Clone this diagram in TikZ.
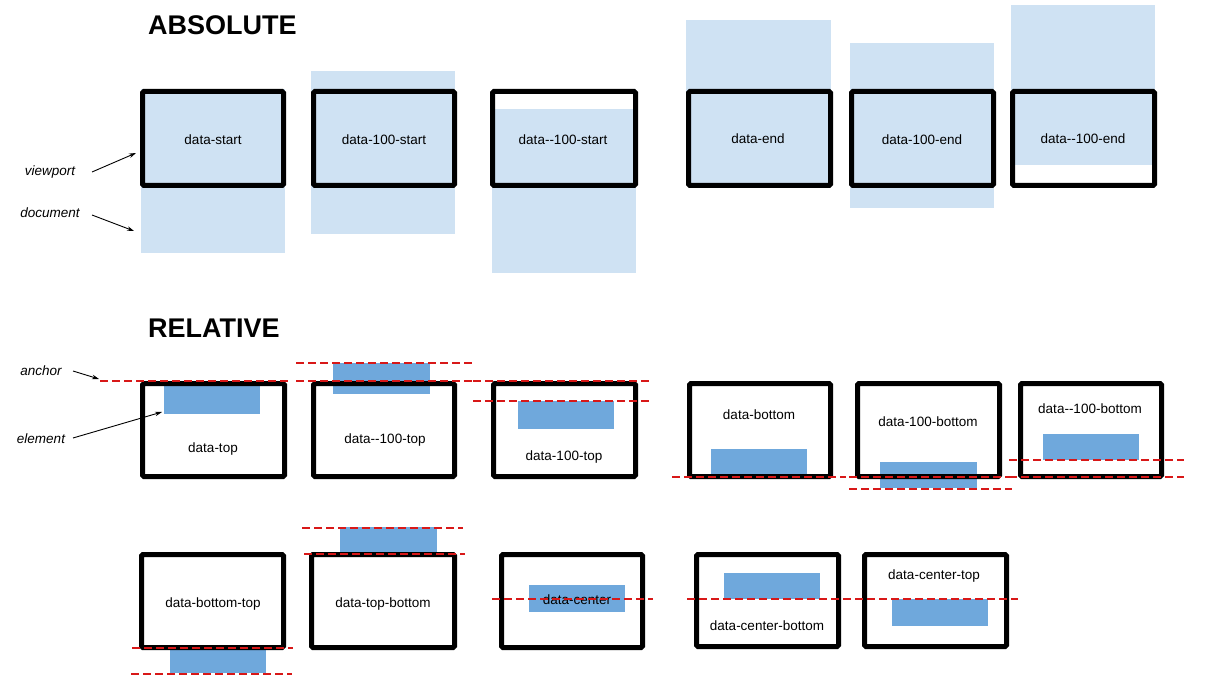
\documentclass[tikz,border=0pt]{standalone}
\usepackage{fontspec}
\setmainfont{Liberation Sans}
\usetikzlibrary{arrows.meta}
\definecolor{docblue}{HTML}{CFE2F3}
\definecolor{elemblue}{HTML}{6FA8DC}
\definecolor{anchorred}{HTML}{D81818}
% double trait d'union sans ligature
\newcommand{\dblhyph}{-\kern0pt-}
\tikzset{
  vport/.style={line width=5pt, rounded corners=1.5pt},
  docfill/.style={fill=docblue},
  elemfill/.style={fill=elemblue},
  anchorline/.style={anchorred, line width=2.2pt, dash pattern=on 8pt off 4pt},
  pointer/.style={-{Stealth[length=7pt,width=4.5pt]}, line width=0.9pt},
  caption/.style={font=\fontsize{13.5}{16}\selectfont, inner sep=0pt, anchor=base},
  sidenote/.style={caption, font=\fontsize{13.5}{16}\selectfont\itshape},
  heading/.style={font=\fontsize{27}{30}\selectfont\bfseries, inner sep=0pt, anchor=base west}
}
\begin{document}
\begin{tikzpicture}[x=1pt, y=-1pt]
  \useasboundingbox (0,0) rectangle (1207,684);
  % Titres
  \node[heading] (absTitle) at (148,35) {ABSOLUTE};
  \node[heading] (relTitle) at (148,338) {RELATIVE};

  % --- Absolute : document derriere le viewport ---
  \fill[docfill] (141,89) rectangle (285,253);
  \draw[vport] (142.5,91.5) rectangle (283.5,185.5);
  \node[caption] (cStart) at (213,145) {data-start};
  \fill[docfill] (311,71) rectangle (455,234);
  \draw[vport] (313.5,91.5) rectangle (454.5,185.5);
  \node[caption] (cHundredStart) at (384,145) {data-100-start};
  \fill[docfill] (492,109) rectangle (636,273);
  \draw[vport] (492.5,91.5) rectangle (635.5,185.5);
  \node[caption] (cMinusStart) at (563,145) {data\dblhyph100-start};
  \fill[docfill] (686,20) rectangle (831,183);
  \draw[vport] (688.5,91.5) rectangle (830.5,185.5);
  \node[caption] (cEnd) at (758,144) {data-end};
  \fill[docfill] (850,43) rectangle (994,208);
  \draw[vport] (851.5,91.5) rectangle (993.5,185.5);
  \node[caption] (cHundredEnd) at (922,145) {data-100-end};
  \fill[docfill] (1011,5) rectangle (1155,165);
  \draw[vport] (1012.5,91.5) rectangle (1154.5,185.5);
  \node[caption] (cMinusEnd) at (1083,144) {data\dblhyph100-end};
  % Legende
  \node[sidenote] (nViewport) at (50,176) {viewport};
  \node[sidenote] (nDocument) at (50,218) {document};
  \coordinate (vpTail) at (92,172);
  \coordinate (vpTip) at (136,153);
  \coordinate (docTail) at (92,215);
  \coordinate (docTip) at (134,231);
  \draw[pointer] (vpTail) -- (vpTip);
  \draw[pointer] (docTail) -- (docTip);

  % --- Relative, premiere rangee ---
  \fill[elemfill] (164,386) rectangle (260,414);
  \draw[vport] (142.5,383.5) rectangle (284.5,476.5);
  \node[caption] (cTop) at (213,452) {data-top};
  \fill[elemfill] (333,363) rectangle (430,394);
  \draw[vport] (313.5,383.5) rectangle (454.5,476.5);
  \node[caption] (cMinusTop) at (385,443) {data\dblhyph100-top};
  \fill[elemfill] (518,401) rectangle (614,429);
  \draw[vport] (493.5,383.5) rectangle (635.5,476.5);
  \node[caption] (cHundredTop) at (564,460) {data-100-top};
  \fill[elemfill] (711,449) rectangle (807,476);
  \draw[vport] (689.5,383.5) rectangle (830.5,476.5);
  \node[caption] (cBottom) at (759,419) {data-bottom};
  \fill[elemfill] (880,462) rectangle (977,488);
  \draw[vport] (857.5,383.5) rectangle (999.5,476.5);
  \node[caption] (cHundredBottom) at (928,426) {data-100-bottom};
  \fill[elemfill] (1043,434) rectangle (1139,460);
  \draw[vport] (1020.5,383.5) rectangle (1161.5,476.5);
  \node[caption] (cMinusBottom) at (1090,413) {data\dblhyph100-bottom};
  % Lignes d'ancrage
  \draw[anchorline] (100,381) -- (290,381);
  \draw[anchorline] (296,363) -- (472,363);
  \draw[anchorline] (296,381) -- (480,381);
  \draw[anchorline] (473,381) -- (650,381);
  \draw[anchorline] (473,401) -- (650,401);
  \draw[anchorline] (672,477) -- (846,477);
  \draw[anchorline] (849,477) -- (1012,477);
  \draw[anchorline] (849,489) -- (1012,489);
  \draw[anchorline] (1009,460) -- (1184,460);
  \draw[anchorline] (1009,477) -- (1184,477);
  % Legende
  \node[sidenote] (nAnchor) at (41,375) {anchor};
  \node[sidenote] (nElement) at (41,443) {element};
  \coordinate (ancTail) at (73,371);
  \coordinate (ancTip) at (99,379);
  \coordinate (elTail) at (73,438);
  \coordinate (elTip) at (162,412);
  \draw[pointer] (ancTail) -- (ancTip);
  \draw[pointer] (elTail) -- (elTip);

  % --- Relative, deuxieme rangee ---
  \fill[elemfill] (170,648) rectangle (266,673);
  \draw[vport] (141.5,554.5) rectangle (283.5,647.5);
  \node[caption] (cBottomTop) at (213,607) {data-bottom-top};
  \fill[elemfill] (340,527) rectangle (437,552);
  \draw[vport] (311.5,554.5) rectangle (454.5,647.5);
  \node[caption] (cTopBottom) at (383,607) {data-top-bottom};
  \fill[elemfill] (529,585) rectangle (625,612);
  \draw[vport] (501.5,554.5) rectangle (642.5,647.5);
  \node[caption] (cCenter) at (577,604) {data-center};
  \fill[elemfill] (724,573) rectangle (820,599);
  \draw[vport] (696.5,554.5) rectangle (838.5,646.5);
  \node[caption] (cCenterBottom) at (767,630) {data-center-bottom};
  \fill[elemfill] (892,599) rectangle (988,626);
  \draw[vport] (864.5,554.5) rectangle (1006.5,646.5);
  \node[caption] (cCenterTop) at (934,579) {data-center-top};
  % Lignes d'ancrage
  \draw[anchorline] (132,648) -- (293,648);
  \draw[anchorline] (131,674) -- (292,674);
  \draw[anchorline] (302,528) -- (463,528);
  \draw[anchorline] (304,554) -- (465,554);
  \draw[anchorline] (492,599) -- (653,599);
  \draw[anchorline] (687,599) -- (1018,599);
\end{tikzpicture}
\end{document}
